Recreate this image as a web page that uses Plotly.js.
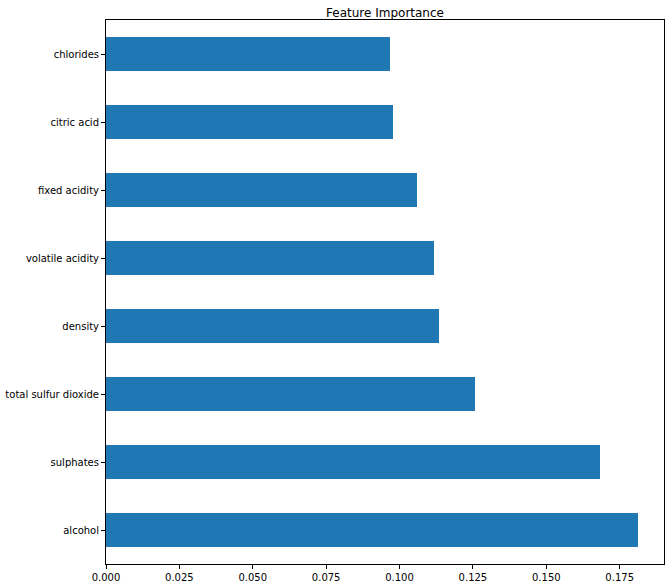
<!DOCTYPE html>
<html>
<head>
<meta charset="utf-8">
<script src="https://cdn.plot.ly/plotly-3.0.1.min.js"></script>
<style>html,body{margin:0;padding:0;background:#fff;}#chart{width:670px;height:585px;}</style>
</head>
<body>
<div id="chart"></div>
<script>
const features = ["alcohol", "sulphates", "total sulfur dioxide", "density", "volatile acidity", "fixed acidity", "citric acid", "chlorides"];
const importance = [0.1811, 0.1682, 0.1256, 0.1133, 0.1117, 0.1058, 0.0979, 0.0966];
const xTicks = [0, 0.025, 0.05, 0.075, 0.1, 0.125, 0.15, 0.175];

const trace = {
  type: "bar",
  orientation: "h",
  x: importance,
  y: features,
  width: 0.5,
  marker: {color: "#1f77b4", line: {width: 0}},
  hoverinfo: "x+y"
};

const layout = {
  width: 670,
  height: 585,
  margin: {l: 106, r: 6, t: 20, b: 21},
  paper_bgcolor: "#ffffff",
  plot_bgcolor: "#ffffff",
  font: {family: "DejaVu Sans, sans-serif", size: 10, color: "#000000"},
  title: {
    text: "Feature Importance",
    font: {family: "DejaVu Sans, sans-serif", size: 12, color: "#000000"},
    x: 0.5, xref: "paper", xanchor: "center",
    y: 1, yref: "paper", yanchor: "bottom",
    pad: {b: 3}
  },
  showlegend: false,
  bargap: 0,
  xaxis: {
    range: [0, 0.1901],
    tickvals: xTicks,
    tickformat: ".3f",
    ticks: "outside",
    ticklen: 4,
    tickwidth: 1,
    tickcolor: "#000",
    showgrid: false,
    zeroline: false,
    showline: true,
    linecolor: "#000",
    linewidth: 1,
    mirror: true,
    tickfont: {size: 10, color: "#000"}
  },
  yaxis: {
    type: "category",
    categoryorder: "array",
    categoryarray: features,
    range: [-0.5, 7.5],
    ticks: "outside",
    ticklen: 4,
    tickwidth: 1,
    tickcolor: "#000",
    showgrid: false,
    zeroline: false,
    showline: true,
    linecolor: "#000",
    linewidth: 1,
    mirror: true,
    tickfont: {size: 10, color: "#000"}
  }
};

Plotly.newPlot("chart", [trace], layout, {displayModeBar: false, staticPlot: true});
</script>
</body>
</html>
